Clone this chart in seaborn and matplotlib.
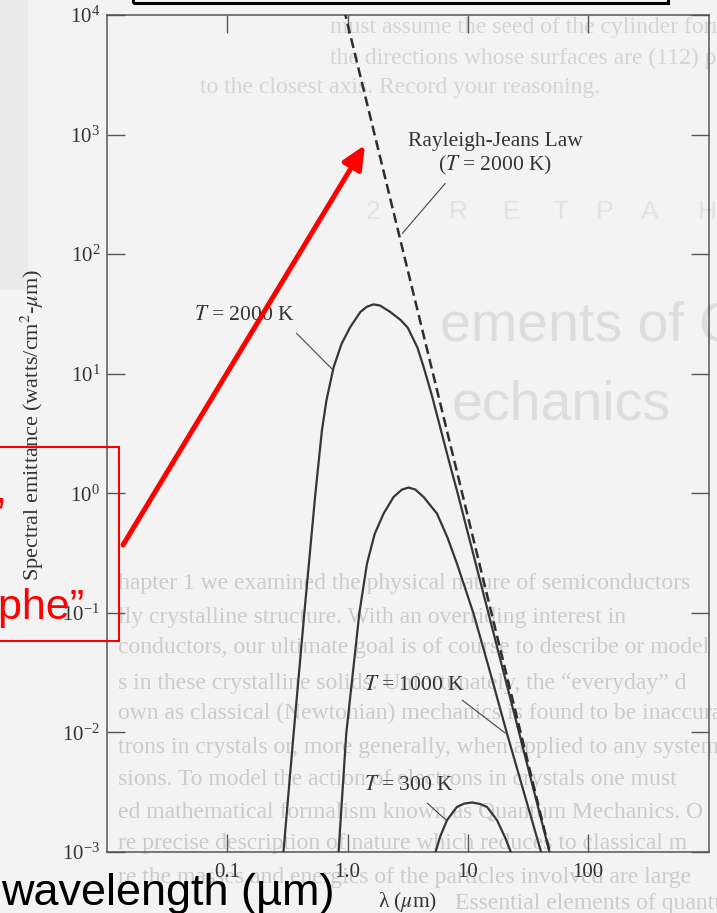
import numpy as np
import pandas as pd
import matplotlib
matplotlib.use("Agg")
import matplotlib.pyplot as plt
import seaborn as sns
from matplotlib.patches import Rectangle, FancyArrowPatch
from matplotlib.ticker import NullLocator, LogFormatterMathtext

# ---------------- data ----------------
# wavelength in micrometres, spectral emittance in W/(cm^2 um)
lam_2000 = [0.285, 0.290, 0.356, 0.437, 0.540, 0.612, 0.668, 0.766, 0.891, 1.052,
            1.276, 1.445, 1.644, 1.862, 2.265, 2.754, 3.162, 3.802, 4.285, 5.012,
            5.888, 6.918, 8.222, 14.79, 26.61, 48.42, 50.12]
E_2000 = [7.08e-4, 8.91e-4, 9.84e-3, 0.100, 1.00, 3.365, 6.03, 11.38, 17.78, 24.55,
          32.81, 36.31, 38.02, 37.15, 32.81, 28.18, 24.27, 16.6, 11.38, 6.61,
          3.55, 1.905, 1.00, 0.100, 0.0100, 9.40e-4, 8.13e-4]

lam_1000 = [0.832, 0.841, 0.975, 1.253, 1.449, 1.679, 1.991, 2.410, 2.831, 3.214,
            3.656, 4.285, 5.534, 6.761, 8.110, 11.14, 15.14, 21.13, 41.30, 43.15]
E_1000 = [8.51e-4, 1.0e-3, 9.84e-3, 0.100, 0.258, 0.457, 0.676, 0.931, 1.074, 1.117,
          1.074, 0.931, 0.676, 0.427, 0.258, 0.0986, 0.0331, 9.79e-3, 9.40e-4, 8.13e-4]

lam_300 = [5.012, 5.284, 5.888, 6.699, 8.110, 9.333, 10.81, 12.59, 14.42, 17.46,
           20.42, 23.28, 24.27]
E_300 = [7.76e-4, 9.40e-4, 1.349e-3, 1.845e-3, 2.382e-3, 2.541e-3, 2.594e-3, 2.523e-3,
         2.382e-3, 1.845e-3, 1.318e-3, 9.40e-4, 8.13e-4]

lam_rj = [0.933, 48.8]          # Rayleigh-Jeans law, T = 2000 K
E_rj = [1.12e4, 9.3e-4]

x_ticks = [0.1, 1.0, 10, 100]
x_tick_labels = ["0.1", "1.0", "10", "100"]
y_ticks = [1e-3, 1e-2, 1e-1, 1e0, 1e1, 1e2, 1e3, 1e4]

# ---------------- styling ----------------
sns.set_style("ticks")
plt.rcParams["font.family"] = ["Liberation Serif", "DejaVu Serif"]
plt.rcParams["mathtext.fontset"] = "stix"

W, H, DPI = 717, 913, 100
PAPER = "#f3f3f3"
INK = "#333333"


def fx(px):
    return px / W


def fy(py):
    return 1 - py / H


fig = plt.figure(figsize=(W / DPI, H / DPI), dpi=DPI, facecolor=PAPER)
ax = fig.add_axes([107 / W, 1 - 852 / H, 601.5 / W, 837 / H])
ax.set_facecolor("none")

# ---------------- scanned-page ghost text (bleed-through) ----------------
fig.add_artist(Rectangle((0, fy(290)), fx(28), 290 / H, transform=fig.transFigure,
                         fc="#ebebeb", ec="none", zorder=-6))
ghost_top = [(27, 330, "must assume the seed of the cylinder forms a (111) plane as shown"),
             (58, 330, "the directions whose surfaces are (112) planes indicate"),
             (88, 200, "to the closest axis. Record your reasoning.")]
for y, x, s in ghost_top:
    fig.text(fx(x), fy(y), s, color="#d4d4d4", fontsize=17, va="center", ha="left",
             family="Liberation Serif", zorder=-5)

for ch, x in zip(["2", "R", "E", "T", "P", "A", "H"], [373, 458, 512, 560, 605, 650, 707]):
    fig.text(fx(x), fy(212), ch, color="#e2e2e2", fontsize=19, va="center", ha="center",
             family="Liberation Sans", zorder=-5)
fig.text(fx(440), fy(326), "ements of Quantum", color="#dddddd", fontsize=40,
         va="center", ha="left", family="Liberation Sans", zorder=-5)
fig.text(fx(452), fy(405), "echanics", color="#dddddd", fontsize=40,
         va="center", ha="left", family="Liberation Sans", zorder=-5)

ghost_body = [(583, "hapter 1 we examined the physical nature of semiconductors"),
              (617, "lly crystalline structure. With an overriding interest in"),
              (647, "conductors, our ultimate goal is of course to describe or model"),
              (683, "s in these crystalline solids. Unfortunately, the \u201ceveryday\u201d d"),
              (713, "own as classical (Newtonian) mechanics is found to be inaccurate"),
              (747, "trons in crystals or, more generally, when applied to any system"),
              (780, "sions. To model the action of electrons in crystals one must"),
              (812, "ed mathematical formalism known as Quantum Mechanics. O"),
              (843, "re precise description of nature which reduces to classical m"),
              (877, "re the masses and energies of the particles involved are large")]
for y, s in ghost_body:
    fig.text(fx(118), fy(y), s, color="#cbcbcb", fontsize=17, va="center", ha="left",
             family="Liberation Serif", zorder=-5)
fig.text(fx(455), fy(903), "Essential elements of quantum mechanics", color="#cbcbcb",
         fontsize=17, va="center", ha="left", family="Liberation Serif", zorder=-5)

# ---------------- curves ----------------
curve_color = "#363636"
for lam, E in [(lam_2000, E_2000), (lam_1000, E_1000), (lam_300, E_300)]:
    df = pd.DataFrame({"lam": lam, "E": E})
    sns.lineplot(data=df, x="lam", y="E", ax=ax, sort=False, estimator=None,
                 color=curve_color, lw=1.6, zorder=3)

df_rj = pd.DataFrame({"lam": lam_rj, "E": E_rj})
sns.lineplot(data=df_rj, x="lam", y="E", ax=ax, sort=False, estimator=None,
             color="#2e2e2e", lw=1.8, zorder=3)
ax.lines[-1].set_dashes((4, 2))
for ln in ax.lines:
    ln.set_solid_joinstyle("round")

ax.set_xscale("log")
ax.set_yscale("log")
ax.set_xlim(0.01, 1000)
ax.set_ylim(1e-3, 1e4)
ax.set_xticks(x_ticks)
ax.set_xticklabels(x_tick_labels)
ax.set_yticks(y_ticks)
ax.yaxis.set_major_formatter(LogFormatterMathtext())
ax.xaxis.set_minor_locator(NullLocator())
ax.yaxis.set_minor_locator(NullLocator())

for sp in ax.spines.values():
    sp.set_visible(True)
    sp.set_color("#555555")
    sp.set_linewidth(1.1)
ax.tick_params(which="major", direction="in", length=13, width=1.0, color="#555555",
               top=True, right=True, labeltop=False, labelright=False,
               labelsize=15, labelcolor=INK)
ax.tick_params(axis="x", pad=8)
ax.tick_params(axis="y", pad=5)

ax.set_xlabel("\u03bb ($\\mu$m)", fontsize=15.5, color=INK, va="center")
ax.xaxis.set_label_coords(0.5, -(902 - 852) / 837)
ax.set_ylabel("Spectral emittance (watts/cm$^2$-$\\mu$m)", fontsize=16, color=INK,
              va="center")
ax.yaxis.set_label_coords((32 - 107) / 601.5, 0.51)

# ---------------- curve labels with leader lines ----------------
lead = dict(arrowstyle="-", lw=0.8, color="#444444", shrinkA=0, shrinkB=0)
ax.text(0.138, 30.8, "$T$ = 2000 K", fontsize=15.5, color=INK, ha="center", va="center")
ax.annotate("", xy=(0.746, 10.9), xytext=(0.376, 21.8), arrowprops=lead)
ax.text(16.9, 683, "Rayleigh-Jeans Law\n($T$ = 2000 K)", fontsize=15.5, color=INK,
        ha="center", va="center", linespacing=1.15)
ax.annotate("", xy=(2.85, 149), xytext=(6.49, 391), arrowprops=lead)
ax.text(3.59, 0.0248, "$T$ = 1000 K", fontsize=15.5, color=INK, ha="center", va="center")
ax.annotate("", xy=(20.5, 0.00985), xytext=(8.99, 0.0186), arrowprops=lead)
ax.text(3.26, 0.00362, "$T$ = 300 K", fontsize=15.5, color=INK, ha="center", va="center")
ax.annotate("", xy=(6.61, 0.001845), xytext=(4.6, 0.00256), arrowprops=lead)

# ---------------- slide overlays ----------------
fig.add_artist(Rectangle((fx(133), fy(3)), (668 - 133) / W, 30 / H,
                         transform=fig.transFigure, fill=False, ec="black", lw=2.2,
                         zorder=10))
fig.add_artist(Rectangle((fx(-5), fy(641)), 124 / W, (641 - 447) / H,
                         transform=fig.transFigure, fill=False, ec="red", lw=1.5,
                         zorder=10))
fig.text(fx(7), fy(503), "Infinite energy,", color="red", fontsize=31, ha="right",
         va="baseline", family="Liberation Sans", zorder=11)
fig.text(fx(84), fy(619), "\u201cUltraviolet catastrophe\u201d", color="red", fontsize=31,
         ha="right", va="baseline", family="Liberation Sans", zorder=11)
arrow = FancyArrowPatch((fx(123), fy(545)), (fx(365), fy(145)),
                        transform=fig.transFigure,
                        arrowstyle="-|>,head_length=0.7,head_width=0.32",
                        mutation_scale=20, lw=3.6, color="red", shrinkA=0, shrinkB=0,
                        zorder=12)
fig.add_artist(arrow)
fig.text(fx(1), fy(905), "wavelength (\u00b5m)", color="black", fontsize=32.4,
         ha="left", va="baseline", family="Liberation Sans", zorder=11)

fig.savefig("out.png", dpi=DPI, facecolor=PAPER)
